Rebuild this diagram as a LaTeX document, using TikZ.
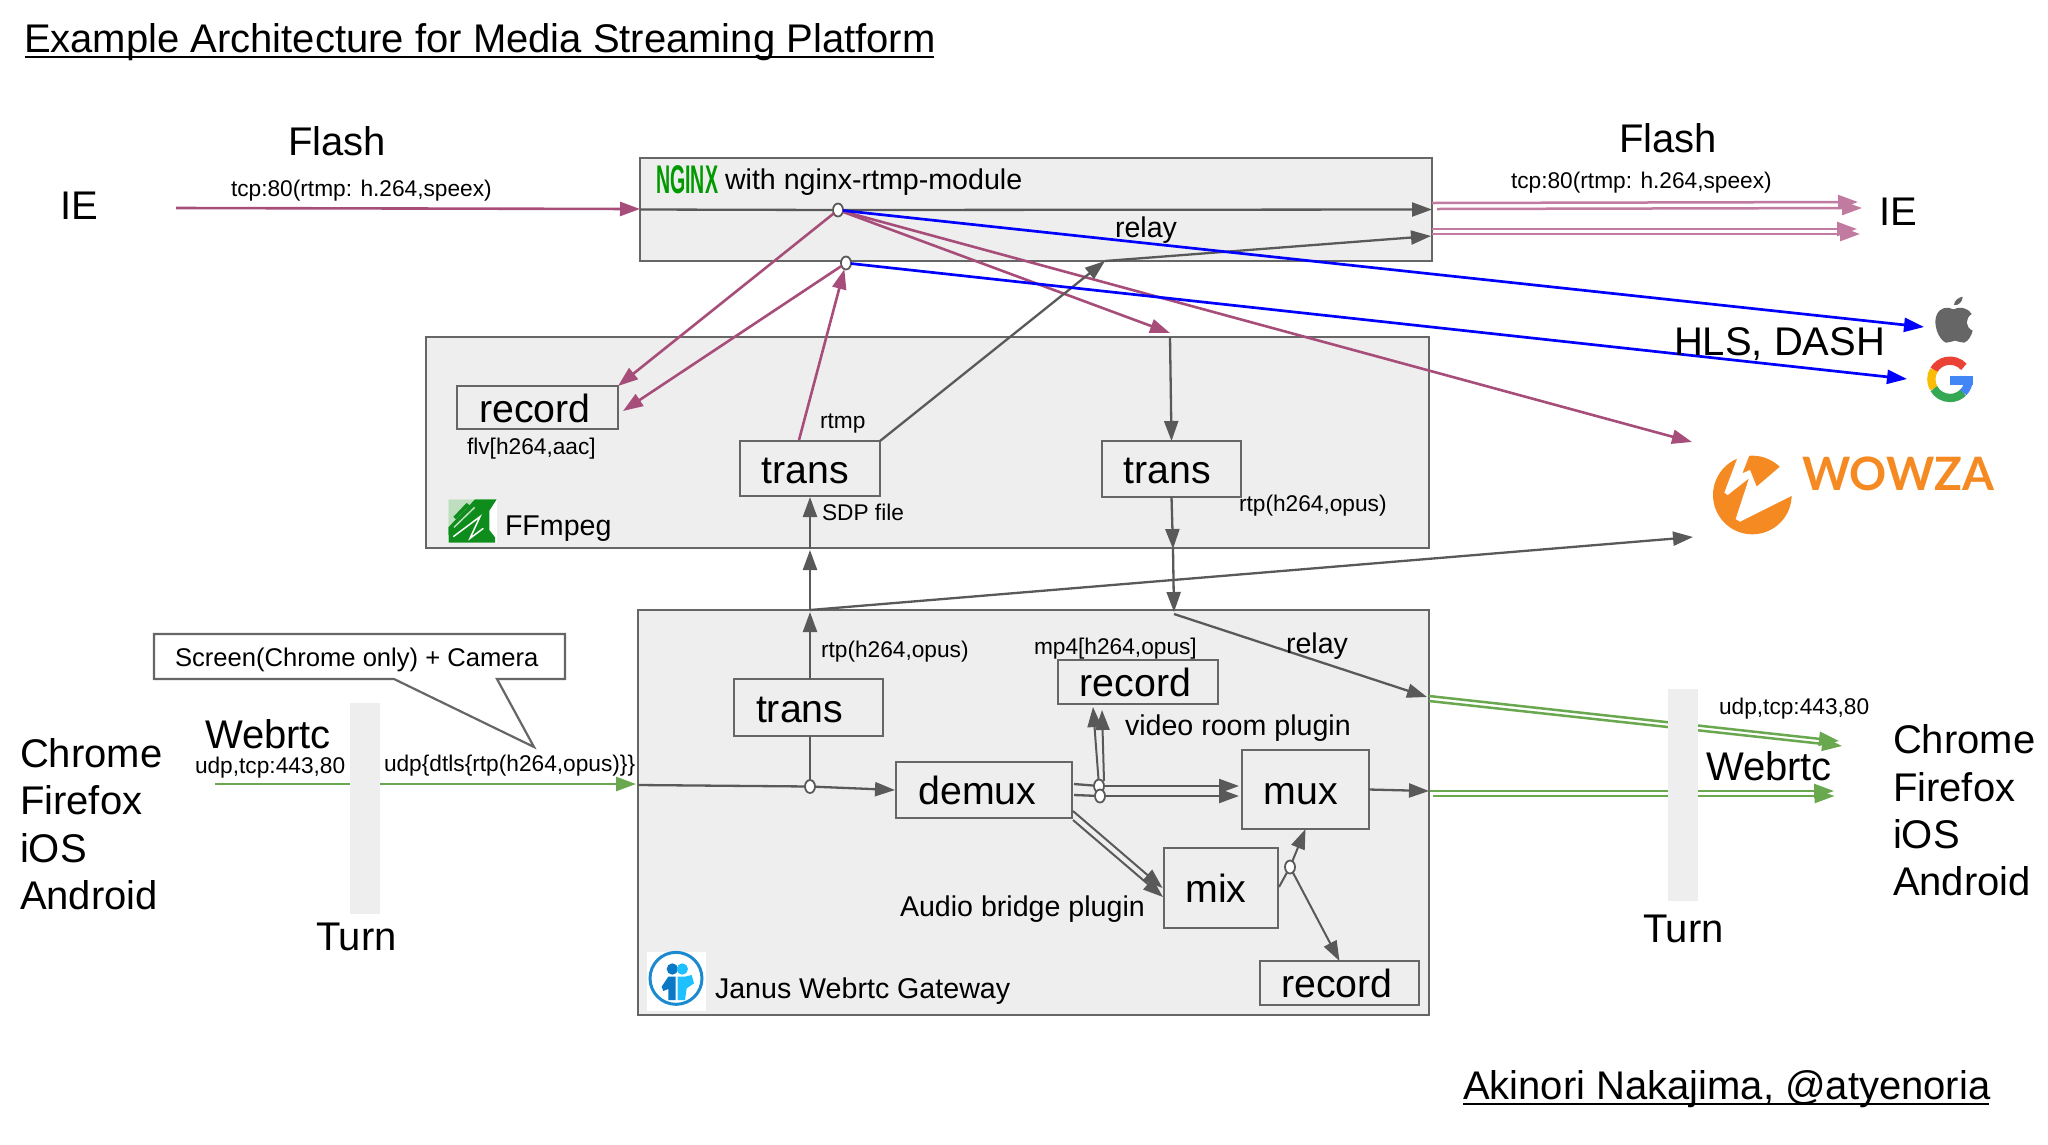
\documentclass[tikz,border=0pt]{standalone}
\usepackage{fontspec}
\setmainfont{Liberation Sans}
\newfontfamily\wzfont{Lato}
\usetikzlibrary{arrows.meta,shapes.geometric}
\definecolor{gc}{HTML}{595959}
\definecolor{bc}{HTML}{666666}
\definecolor{fc}{HTML}{EEEEEE}
\definecolor{pc}{HTML}{A64D79}
\definecolor{lp}{HTML}{C27BA0}
\definecolor{gr}{HTML}{6AA84F}
\definecolor{bl}{HTML}{0000FF}
\definecolor{wz}{HTML}{F58A23}
\definecolor{ngx}{HTML}{009900}
\definecolor{ffg}{HTML}{0E8C1C}
\definecolor{ffl}{HTML}{BFDDBF}
\definecolor{jring}{HTML}{1C8AD0}
\definecolor{jdark}{HTML}{0A78C4}
\definecolor{jlight}{HTML}{1FC0FF}
\definecolor{gred}{HTML}{EA4335}
\definecolor{gyel}{HTML}{FBBC05}
\definecolor{ggrn}{HTML}{34A853}
\definecolor{gblu}{HTML}{4285F4}
\tikzset{
  bigtxt/.style={font=\fontsize{40}{40}\selectfont},
  midtxt/.style={font=\fontsize{28.6}{30}\selectfont},
  smalltxt/.style={font=\fontsize{22.7}{24}\selectfont},
  lbl/.style={anchor=base west,inner sep=0pt,outer sep=0pt},
  container/.style={draw=bc,fill=fc,line width=2.5pt,inner sep=0pt,outer sep=0pt},
  boxn/.style={draw=bc,fill=fc,line width=2.5pt,inner sep=0pt,outer sep=0pt,
    text height=29.5pt,text depth=0pt,font=\fontsize{39.3}{39}\selectfont},
  jn/.style={ellipse,draw=gc,fill=white,line width=1.8pt,inner sep=0pt,outer sep=0pt,minimum width=10pt,minimum height=13pt},
  tipped/.style={-{Triangle[length=20pt,width=14pt]}},
  gline/.style={draw=gc,line width=2.3pt},
  pline/.style={draw=pc,line width=2.6pt},
  lpline/.style={draw=lp,line width=2.5pt},
  bline/.style={draw=bl,line width=2.7pt},
  grline/.style={draw=gr,line width=2.5pt},
  turnbar/.style={fill=fc,draw=none,inner sep=0pt,minimum width=30pt},
}
\begin{document}
\begin{tikzpicture}[x=1pt,y=1pt,yscale=-1]
\useasboundingbox (0,0) rectangle (2048,1144);
\fill[white] (0,0) rectangle (2048,1144);

% containers
\node[container,minimum width=792pt,minimum height=103pt] (nginx) at (1036,209.5) {};
\node[container,minimum width=1003pt,minimum height=211pt] (ffmpeg) at (927.5,442.6) {};
\node[container,minimum width=791pt,minimum height=405pt] (janus) at (1033.5,812.5) {};

% inner boxes
\node[boxn,minimum width=161pt,minimum height=43pt] (rec1) at (537.5,407.5) {record\kern5pt};
\node[boxn,minimum width=140pt,minimum height=55pt] (trans1) at (810,468.5) {trans\kern10pt};
\node[boxn,minimum width=139pt,minimum height=56pt] (trans2) at (1171.5,469) {trans\kern9pt};
\node[boxn,minimum width=149pt,minimum height=57pt] (trans3) at (808.7,707.5) {trans\kern18pt};
\node[boxn,minimum width=176pt,minimum height=56pt] (demux) at (984,790) {demux\kern13pt};
\node[boxn,minimum width=160pt,minimum height=44pt] (rec2) at (1138,682) {record\kern5pt};
\node[boxn,minimum width=127pt,minimum height=79pt] (mux) at (1305.5,789.5) {mux\kern9pt};
\node[boxn,minimum width=114pt,minimum height=80pt] (mix) at (1221,888) {mix\kern10pt};
\node[boxn,minimum width=159pt,minimum height=44pt] (rec3) at (1339.5,983) {record\kern5pt};

% junctions
\node[jn] (j1) at (838,210) {};
\node[jn] (j2) at (846,263) {};
\node[jn] (jj) at (810,786.5) {};
\node[jn] (jd1) at (1099,786) {};
\node[jn] (jd2) at (1100,796) {};
\node[jn] (jm) at (1290,867) {};

% free ends
\coordinate (ieL) at (176,208);
\coordinate (ieTip) at (640,209);
\coordinate (rec1In) at (623,411);
\coordinate (t1top) at (799,440);
\coordinate (rel1) at (1105,261);
\coordinate (rel1b) at (1431,236);
\coordinate (ffT) at (1170,333);
\coordinate (ffT2) at (1170,337);
\coordinate (ffB) at (1173,549);
\coordinate (jaT) at (1174,612);
\coordinate (jaT2) at (1174,614);
\coordinate (relTip) at (1427,697);
\coordinate (appleTip) at (1924,327);
\coordinate (googleTip) at (1907,379);
\coordinate (wzTip) at (1692,442);
\coordinate (wzTip2) at (1693,537);
\coordinate (ja0) at (810,610);
\coordinate (tr3t) at (810,679);
\coordinate (tr3b) at (810,736);
\coordinate (tr3u) at (810,612);
\coordinate (ffb0) at (810,550);
\coordinate (ffb1) at (810,549);
\coordinate (tr1b) at (810,497);
\coordinate (jaW) at (638,785);
\coordinate (deIn) at (895,790);
\coordinate (d1a) at (1074,784);
\coordinate (d1b) at (1239,786);
\coordinate (d2a) at (1074,795);
\coordinate (d2b) at (1239,796);
\coordinate (dr1) at (1093,707);
\coordinate (dr2a) at (1104,781);
\coordinate (dr2) at (1102,710);
\coordinate (dm1a) at (1073,811);
\coordinate (dm1b) at (1162.6,888);
\coordinate (dm2a) at (1073,820);
\coordinate (dm2b) at (1163,897);
\coordinate (muxOut) at (1429,791);
\coordinate (mixOut) at (1279,887);
\coordinate (p1a) at (1432,203);
\coordinate (p1b) at (1858,202);
\coordinate (p2a) at (1437,209);
\coordinate (p2b) at (1862,208);
\coordinate (p3a) at (1432,229);
\coordinate (p3b) at (1857,229);
\coordinate (p4a) at (1432,234);
\coordinate (p4b) at (1860,234);
\coordinate (g1a) at (1429,696);
\coordinate (g1b) at (1839,741);
\coordinate (g2a) at (1429,701);
\coordinate (g2b) at (1842,746);
\coordinate (g3a) at (1430,791);
\coordinate (g3b) at (1834,791);
\coordinate (g4a) at (1433,796);
\coordinate (g4b) at (1834.5,796);
\coordinate (gL) at (215,784);
\coordinate (gLb) at (636,784);

% pink lines
\draw[pline,tipped] (ieL) -- (ieTip);
\draw[lpline,tipped] (p1a) -- (p1b);
\draw[lpline,tipped] (p2a) -- (p2b);
\draw[lpline,tipped] (p3a) -- (p3b);
\draw[lpline,tipped] (p4a) -- (p4b);
\draw[pline,tipped] (j1) -- (rec1.north east);
\draw[pline,tipped] (j2) -- (rec1In);
\draw[pline,tipped] (t1top) -- (j2);
\draw[pline,tipped] (j1) -- (ffT);
\draw[pline,tipped] (j1) -- (wzTip);

% grey lines
\draw[gline] (nginx.west) -- (j1);
\draw[gline,tipped] (j1) -- (nginx.east);
\draw[gline,tipped] (trans1.north east) -- (rel1);
\draw[gline,tipped] (rel1) -- (rel1b);
\draw[gline,tipped] (ffT2) -- (trans2.north);
\draw[gline,tipped] (trans2.south) -- (ffB);
\draw[gline,tipped] (ffB) -- (jaT);
\draw[gline,tipped] (jaT2) -- (relTip);
\draw[gline,tipped] (ja0) -- (wzTip2);
\draw[gline] (jj) -- (tr3b);
\draw[gline,tipped] (tr3t) -- (tr3u);
\draw[gline,tipped] (ja0) -- (ffb0);
\draw[gline,tipped] (ffb1) -- (tr1b);
\draw[gline] (jaW) -- (jj);
\draw[gline,tipped] (jj) -- (deIn);
\draw[gline] (d1a) -- (jd1);
\draw[gline,tipped] (jd1) -- (d1b);
\draw[gline] (d2a) -- (jd2);
\draw[gline,tipped] (jd2) -- (d2b);
\draw[gline,line width=2pt,tipped] (jd1) -- (dr1);
\draw[gline,line width=2pt,tipped] (dr2a) -- (dr2);
\draw[gline,line width=2pt,tipped] (dm1a) -- (dm1b);
\draw[gline,line width=2pt,tipped] (dm2a) -- (dm2b);
\draw[gline,tipped] (mux.east) -- (muxOut);
\draw[gline,line width=2pt] (mixOut) -- (jm);
\draw[gline,line width=2pt,tipped] (jm) -- (mux.south);
\draw[gline,line width=2pt,tipped] (jm) -- (rec3.north);

% blue lines
\draw[bline,tipped] (j1) -- (appleTip);
\draw[bline,tipped] (j2) -- (googleTip);

% green lines
\draw[grline,tipped] (gL) -- (gLb);
\draw[grline,tipped] (g1a) -- (g1b);
\draw[grline,tipped] (g2a) -- (g2b);
\draw[grline,tipped] (g3a) -- (g3b);
\draw[grline,tipped] (g4a) -- (g4b);

% turn bars
\node[turnbar,minimum height=211pt] (turnL) at (365,808.5) {};
\node[turnbar,minimum height=212pt] (turnR) at (1682.75,795) {};

% title and author
\node[lbl,bigtxt] (title) at (24,52) {Example Architecture for Media Streaming Platform};
\draw[line width=2.6pt,black] (24.5,57) -- (934,57);
\node[lbl,bigtxt] (author) at (1463,1099) {Akinori Nakajima, @atyenoria};
\draw[line width=2.6pt,black] (1463,1104) -- (1989,1104);

% labels left
\node[lbl,bigtxt] (flashL) at (288,155) {Flash};
\node[lbl,bigtxt] (ieLt) at (60,219) {IE};
\node[lbl,smalltxt] (tcpL) at (231,196) {tcp:80(rtmp: h.264,speex)};
\node[lbl,bigtxt] (chromeL) at (20,767) {Chrome};
\node[lbl,bigtxt] (firefoxL) at (20,814) {Firefox};
\node[lbl,bigtxt] (iosL) at (20,862) {iOS};
\node[lbl,bigtxt] (androidL) at (20,909) {Android};
\node[lbl,bigtxt] (webrtcL) at (205,748) {Webrtc};
\node[lbl,smalltxt] (udpL) at (195,773) {udp,tcp:443,80};
\node[lbl,smalltxt] (udpD) at (384,771) {udp\{dtls\{rtp(h264,opus)\}\}};
\node[lbl,bigtxt] (turnLt) at (316,950) {Turn};

% callout
\draw[draw=bc,fill=white,line width=2.2pt] (154,634) -- (565,634) -- (565,679) -- (497,679) -- (534,747) -- (394,679) -- (154,679) -- cycle;
\node[lbl,font=\fontsize{25.6}{27}\selectfont] (callout) at (175,666) {Screen(Chrome only) + Camera};

% labels right
\node[lbl,bigtxt] (flashR) at (1619,152) {Flash};
\node[lbl,bigtxt] (ieRt) at (1879,225) {IE};
\node[lbl,smalltxt] (tcpR) at (1511,188) {tcp:80(rtmp: h.264,speex)};
\node[lbl,bigtxt] (hls) at (1674,355) {HLS, DASH};
\node[lbl,bigtxt] (chromeR) at (1893,753) {Chrome};
\node[lbl,bigtxt] (firefoxR) at (1893,801) {Firefox};
\node[lbl,bigtxt] (iosR) at (1893,848) {iOS};
\node[lbl,bigtxt] (androidR) at (1893,895) {Android};
\node[lbl,bigtxt] (webrtcR) at (1706,780) {Webrtc};
\node[lbl,smalltxt] (udpR) at (1719,714) {udp,tcp:443,80};
\node[lbl,bigtxt] (turnRt) at (1643,942) {Turn};

% labels in boxes
\node[lbl,font=\bfseries\fontsize{40}{40}\selectfont,text=ngx] (nginxlogo) at (656,193) {\scalebox{0.49}[1]{NGINX}};
\node[lbl,midtxt] (nginxT) at (725,189) {with nginx-rtmp-module};
\node[lbl,midtxt] (relay1) at (1115,237) {relay};
\node[lbl,smalltxt] (rtmp) at (820,428) {rtmp};
\node[lbl,smalltxt] (sdp) at (822,520) {SDP file};
\node[lbl,smalltxt] (rtpA) at (1239,511) {rtp(h264,opus)};
\node[lbl,smalltxt] (flv) at (467,454) {flv[h264,aac]};
\node[lbl,midtxt] (ffT) at (505,535) {FFmpeg};
\node[lbl,smalltxt] (rtpB) at (821,657) {rtp(h264,opus)};
\node[lbl,smalltxt] (mp4) at (1034,654) {mp4[h264,opus]};
\node[lbl,midtxt] (relay2) at (1286,653) {relay};
\node[lbl,midtxt] (videoR) at (1125,735) {video room plugin};
\node[lbl,midtxt] (audioB) at (900,916) {Audio bridge plugin};
\node[lbl,midtxt] (janusT) at (715,998) {Janus Webrtc Gateway};

% FFmpeg logo
\begin{scope}[shift={(440,490)},scale=0.3333]
  \fill[white] (25,28) rectangle (170,160);
  \fill[ffl] (25,28) -- (105,28) -- (25,112) -- cycle;
  \fill[ffg] (105,28) -- (170,28) -- (148,62) -- (148,120) -- (165,142) -- (165,158) -- (26,158) -- (25,112) -- cycle;
  \draw[ffg,line width=3.5pt] (44,84) -- (84,42);
  \draw[white,line width=1.5pt] (40,140) -- (120,80) -- (90,145) -- (130,115);
  \draw[ffl,line width=1.5pt] (42,112) -- (104,52);
\end{scope}

% Janus logo
\begin{scope}[shift={(640,945)},scale=0.3333]
  \fill[white] (20,22) rectangle (197,198);
  \draw[draw=jring,line width=3pt] (108,100) circle[radius=78];
  \fill[jdark] (97,72) circle[radius=17];
  \fill[jlight] (127,72) circle[radius=17];
  \fill[jdark] (65,125) -- (85,95) -- (107,95) -- (107,165) -- (85,165) -- (85,132) -- (70,138) -- cycle;
  \fill[jlight] (113,95) -- (135,95) -- (155,90) -- (162,115) -- (140,130) -- (135,165) -- (113,165) -- cycle;
\end{scope}

% Apple logo
\begin{scope}[shift={(1920,290)},scale=0.3333]
  \fill[bc] (100,58) .. controls (85,50) and (60,50) .. (50,75) .. controls (38,100) and (55,150) .. (78,158) .. controls (88,160) and (95,152) .. (105,152) .. controls (115,152) and (122,160) .. (132,158) .. controls (145,155) and (155,135) .. (158,122) .. controls (135,112) and (135,85) .. (155,72) .. controls (140,50) and (118,50) .. (100,58) -- cycle;
  \fill[bc] (102,45) .. controls (102,30) and (118,22) .. (128,20) .. controls (128,35) and (115,48) .. (102,45) -- cycle;
\end{scope}

% Google logo
\begin{scope}[shift={(1920,290)},scale=0.3333]
  \draw[line width=8.3pt,draw=gred] (90,268) ++(-42:56) arc[start angle=-42,end angle=-150,radius=56];
  \draw[line width=8.3pt,draw=gyel] (90,268) ++(-150:56) arc[start angle=-150,end angle=-210,radius=56];
  \draw[line width=8.3pt,draw=ggrn] (90,268) ++(-210:56) arc[start angle=-210,end angle=-315,radius=56];
  \draw[line width=8.3pt,draw=gblu] (90,268) ++(45:56) arc[start angle=45,end angle=0,radius=56];
  \fill[gblu] (90,257) rectangle (158,284);
\end{scope}

% Wowza logo
\begin{scope}[shift={(1705,445)},scale=0.3333]
  \fill[wz] (142,150) circle[radius=118];
  \fill[white] (105,18) -- (58,143) -- (68,150) -- (132,100) -- (92,222) -- (105,230) -- (265,150) -- (290,60) -- (225,65) -- (155,125) -- (135,75) -- (112,85) -- (138,18) -- cycle;
\end{scope}
\node[lbl,font=\wzfont\bfseries\fontsize{46}{46}\selectfont,text=wz] (wowza) at (1802,490) {WOWZA};

\end{tikzpicture}
\end{document}
